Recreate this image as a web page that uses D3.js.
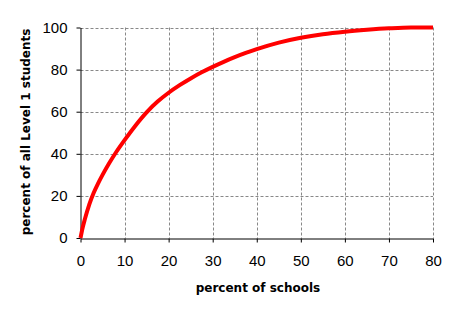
<!DOCTYPE html>
<html><head><meta charset="utf-8">
<script src="https://cdn.jsdelivr.net/npm/d3@7"></script>
<style>body{margin:0;background:#fff}svg{display:block}</style>
</head><body>
<svg id="c" width="456" height="318"></svg>
<script>
const schoolsPct = [0, 0.5, 1, 2, 3, 4, 5, 6.5, 8, 10, 12.5, 15, 17.5, 20, 22.5, 25, 27.5, 30, 32.5, 35, 37.5, 40, 45, 50, 55, 60, 65, 70, 75, 80];
const studentsPct = [0, 5, 9, 16, 21.5, 26, 30, 35.5, 40.5, 46.5, 53.5, 59.7, 64.8, 69, 72.6, 75.8, 78.7, 81.3, 83.7, 85.9, 87.9, 89.7, 92.8, 95.1, 96.8, 98, 98.9, 99.6, 100, 100];
const xTicks = [0, 10, 20, 30, 40, 50, 60, 70, 80];
const yTicks = [0, 20, 40, 60, 80, 100];
const xTitle = "percent of schools";
const yTitle = "percent of all Level 1 students";

const svg = d3.select("#c");
const x = d3.scaleLinear().domain([0, 80]).range([80.5, 433]);
const y = d3.scaleLinear().domain([0, 100]).range([238, 27.5]);

// gridlines
svg.append("g").selectAll("line").data(xTicks.filter(d => d > 0)).join("line")
  .attr("x1", d => Math.round(x(d)) + 0.5).attr("x2", d => Math.round(x(d)) + 0.5)
  .attr("y1", y(100)).attr("y2", y(0))
  .attr("stroke", "#888").attr("stroke-dasharray", "3,2");
svg.append("g").selectAll("line").data(yTicks.filter(d => d > 0)).join("line")
  .attr("y1", d => Math.round(y(d)) + 0.5).attr("y2", d => Math.round(y(d)) + 0.5)
  .attr("x1", x(0)).attr("x2", x(80))
  .attr("stroke", "#888").attr("stroke-dasharray", "3,2");

const font = "'Liberation Sans', Arial, sans-serif";
const xa = svg.append("g").attr("transform", `translate(0,${Math.round(y(0)) + 0.5})`)
  .call(d3.axisBottom(x).tickValues(xTicks).tickSize(4).tickPadding(13).tickSizeOuter(0));
const ya = svg.append("g").attr("transform", `translate(${Math.round(x(0)) - 0.5},0)`)
  .call(d3.axisLeft(y).tickValues(yTicks).tickSize(4).tickPadding(9).tickSizeOuter(0));
[xa, ya].forEach(a => {
  a.select(".domain").attr("stroke", "#000");
  a.selectAll(".tick line").attr("stroke", "#000");
  a.selectAll("text").attr("font-family", font).attr("font-size", 15).attr("fill", "#000");
});

// curve
svg.append("path")
  .datum(schoolsPct.map((d, i) => [d, studentsPct[i]]))
  .attr("fill", "none").attr("stroke", "#ff0000").attr("stroke-width", 4)
  .attr("stroke-linejoin", "round")
  .attr("d", d3.line().x(d => x(d[0])).y(d => y(d[1])).curve(d3.curveMonotoneX));

// titles
svg.append("text").attr("x", 258).attr("y", 292).attr("text-anchor", "middle")
  .attr("font-family", "'DejaVu Sans', Verdana, sans-serif").attr("font-weight", "bold")
  .attr("font-size", 12).text(xTitle);
svg.append("text").attr("transform", "translate(30,132) rotate(-90)").attr("text-anchor", "middle")
  .attr("font-family", "'DejaVu Sans', Verdana, sans-serif").attr("font-weight", "bold")
  .attr("font-size", 12).text(yTitle);
</script>
</body></html>
